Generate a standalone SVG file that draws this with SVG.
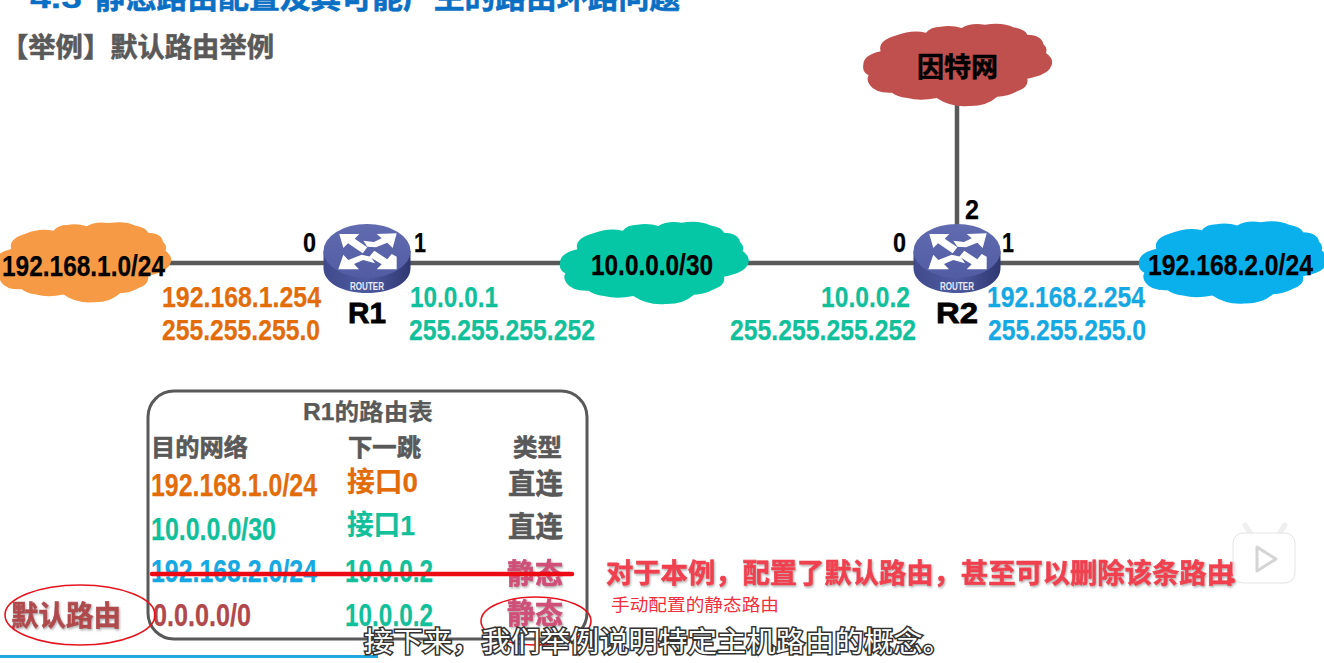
<svg xmlns="http://www.w3.org/2000/svg" xmlns:xlink="http://www.w3.org/1999/xlink" width="1324" height="663" viewBox="0 0 1324 663">
<style>
text{font-family:"Liberation Sans","Noto Sans CJK SC",sans-serif;font-weight:700}
.cn{font-family:"Noto Sans CJK SC",sans-serif;font-weight:700;stroke-width:.6}
.link{stroke:#595959;stroke-width:4.5;fill:none}
.or{fill:#E36C0A;stroke:#E36C0A}.te{fill:#12BF9B;stroke:#12BF9B}.bl{fill:#15A8E2;stroke:#15A8E2}.gr{fill:#595959;stroke:#595959}.ro{fill:#B0484C;stroke:#B0484C}.pk{fill:#D0507A;stroke:#D0507A}.k{fill:#000;stroke:#000}
text{stroke-width:.25}
.sd{filter:url(#sd)}
.oval{fill:none;stroke:#E5141E;stroke-width:1.6}
</style>
<defs>
<filter id="sd" x="-5%" y="-20%" width="110%" height="150%"><feDropShadow dx="1" dy="1.5" stdDeviation=".8" flood-color="#999" flood-opacity=".8"/></filter>
<path id="cl" d="M30 140Q30 112 82 100Q72 68 130 52Q175 34 218 44Q232 26 262 26Q295 20 325 30Q350 14 395 20Q450 12 480 28Q515 34 522 50Q566 52 570 78Q584 90 578 105Q606 125 592 148Q580 172 522 182Q528 208 492 220Q462 236 432 236Q398 266 345 264Q292 268 250 240Q200 250 162 240Q130 236 116 224Q66 226 50 202Q38 186 46 172Q26 162 30 140Z"/>
<linearGradient id="rt" x1="0" y1="0" x2="0" y2="1"><stop offset="0" stop-color="#616BB0"/><stop offset="1" stop-color="#515CA2"/></linearGradient>
<linearGradient id="rs" x1="0" y1="0" x2="1" y2="0"><stop offset="0" stop-color="#404A8C"/><stop offset=".5" stop-color="#4E5AA0"/><stop offset="1" stop-color="#2F3872"/></linearGradient>
<g id="rtr">
<path d="M-43.5 -17V0C-43.5 15-24 25 0 25S43.5 15 43.5 0V-17Z" fill="url(#rs)"/>
<ellipse cx="0" cy="-17" rx="43.5" ry="27" fill="url(#rt)"/>
<g fill="#fff">
<path d="M-27.7 -34L-7.7 -34L-12.3 -29.3L.3 -20.7L-4.3 -14.7L-19 -24.7L-23.7 -20Z"/>
<path d="M29.7 -34.7L9.7 -34L14.7 -29.7L7 -26L-3.7 -27.3L.3 -21.3L9 -20.7L20.3 -25.3L25.7 -20Z"/>
<path d="M-28.7 1.3L-8 1.3L-13 -4L-3.7 -8L8 -4.7L3.7 -11.3L-5.3 -13.3L-18.7 -8L-23.7 -13.3Z"/>
<path d="M29.7 1.3L9.7 1.3L14.7 -3.7L2.3 -11.3L7.3 -17.3L20.3 -8.7L24.7 -14L29.7 -11.3Z"/>
</g>
<text x="0" y="22" text-anchor="middle" font-size="10.5" fill="#E8E8F4" stroke="none" textLength="34" lengthAdjust="spacingAndGlyphs">ROUTER</text>
</g>
</defs>

<g id="title">
<text x="30" y="8" font-size="30" fill="#0B6FC4" stroke="#0B6FC4" textLength="52" lengthAdjust="spacingAndGlyphs">4.3</text>
<text class="cn" x="95" y="8" font-size="30" fill="#0B6FC4" stroke="#0B6FC4" textLength="585" lengthAdjust="spacingAndGlyphs">静态路由配置及其可能产生的路由环路问题</text>
<text class="cn gr" x="1" y="57" font-size="27" textLength="273" lengthAdjust="spacingAndGlyphs">【举例】默认路由举例</text>
</g>

<g id="connectors">
<path class="link" d="M150 263H330M405 263H570M740 263H920M995 263H1150M957 100V232"/>
</g>

<g id="net-left"><use xlink:href="#cl" transform="translate(-14.3 216.5) scale(.311 .325)" fill="#F79A46"/><text x="2" y="276" font-size="30" class="k" textLength="163" lengthAdjust="spacingAndGlyphs">192.168.1.0/24</text></g>
<g id="net-mid"><use xlink:href="#cl" transform="translate(550 216) scale(.3333)" fill="#05C7A6"/><text x="591" y="275" font-size="30" class="k" textLength="122" lengthAdjust="spacingAndGlyphs">10.0.0.0/30</text></g>
<g id="net-right"><use xlink:href="#cl" transform="translate(1129 215.5) scale(.3333)" fill="#0AB0EC"/><text x="1148" y="275" font-size="30" class="k" textLength="165" lengthAdjust="spacingAndGlyphs">192.168.2.0/24</text></g>
<g id="internet"><use xlink:href="#cl" transform="translate(853.3 18) scale(.3333)" fill="#C0504D"/><text class="cn k" x="917" y="77" font-size="27" textLength="81" lengthAdjust="spacingAndGlyphs">因特网</text></g>

<g id="R1"><use xlink:href="#rtr" x="367" y="268"/>
<text class="k" x="348" y="323" font-size="30" style="stroke-width:.8" textLength="38" lengthAdjust="spacingAndGlyphs">R1</text>
<text class="k" x="303" y="252" font-size="28" textLength="13" lengthAdjust="spacingAndGlyphs">0</text>
<text class="k" x="414" y="252" font-size="28" textLength="12" lengthAdjust="spacingAndGlyphs">1</text>
<text class="or" x="162" y="307" font-size="30" textLength="159" lengthAdjust="spacingAndGlyphs">192.168.1.254</text>
<text class="or" x="162" y="340" font-size="30" textLength="158" lengthAdjust="spacingAndGlyphs">255.255.255.0</text>
<text class="te" x="410" y="307" font-size="30" textLength="88" lengthAdjust="spacingAndGlyphs">10.0.0.1</text>
<text class="te" x="409" y="340" font-size="30" textLength="186" lengthAdjust="spacingAndGlyphs">255.255.255.252</text>
</g>
<g id="R2"><use xlink:href="#rtr" x="957" y="268"/>
<text class="k" x="936" y="323" font-size="30" style="stroke-width:.8" textLength="42" lengthAdjust="spacingAndGlyphs">R2</text>
<text class="k" x="893" y="252" font-size="28" textLength="13" lengthAdjust="spacingAndGlyphs">0</text>
<text class="k" x="1002" y="252" font-size="28" textLength="12" lengthAdjust="spacingAndGlyphs">1</text>
<text class="k" x="965" y="219" font-size="28" textLength="14" lengthAdjust="spacingAndGlyphs">2</text>
<text class="te" x="821" y="307" font-size="30" textLength="89" lengthAdjust="spacingAndGlyphs">10.0.0.2</text>
<text class="te" x="730" y="340" font-size="30" textLength="186" lengthAdjust="spacingAndGlyphs">255.255.255.252</text>
<text class="bl" x="987" y="307" font-size="30" textLength="158" lengthAdjust="spacingAndGlyphs">192.168.2.254</text>
<text class="bl" x="988" y="340" font-size="30" textLength="158" lengthAdjust="spacingAndGlyphs">255.255.255.0</text>
</g>

<g id="route-table">
<rect x="148" y="391" width="439" height="248" rx="26" fill="#fff" stroke="#595959" stroke-width="3"/>
<text class="gr" x="303" y="420" font-size="23" textLength="130" lengthAdjust="spacingAndGlyphs">R1的路由表</text>
<text class="cn gr" x="151" y="456" font-size="24" textLength="97" lengthAdjust="spacingAndGlyphs">目的网络</text>
<text class="cn gr" x="348" y="456" font-size="24" textLength="73" lengthAdjust="spacingAndGlyphs">下一跳</text>
<text class="cn gr" x="513" y="456" font-size="24" textLength="49" lengthAdjust="spacingAndGlyphs">类型</text>
<text class="or" x="151" y="496" font-size="31" textLength="166" lengthAdjust="spacingAndGlyphs">192.168.1.0/24</text>
<text class="or" x="347" y="492" font-size="28" textLength="71" lengthAdjust="spacingAndGlyphs">接口0</text>
<text class="cn gr" x="508" y="494" font-size="28" textLength="55" lengthAdjust="spacingAndGlyphs">直连</text>
<text class="te" x="151" y="540" font-size="31" textLength="125" lengthAdjust="spacingAndGlyphs">10.0.0.0/30</text>
<text class="te" x="347" y="535" font-size="28" textLength="68" lengthAdjust="spacingAndGlyphs">接口1</text>
<text class="cn gr" x="508" y="537" font-size="28" textLength="55" lengthAdjust="spacingAndGlyphs">直连</text>
<text class="bl" x="151" y="582" font-size="31" textLength="166" lengthAdjust="spacingAndGlyphs">192.168.2.0/24</text>
<text class="te" x="345" y="582" font-size="31" textLength="88" lengthAdjust="spacingAndGlyphs">10.0.0.2</text>
<text class="cn pk sd" x="507" y="584" font-size="28" textLength="56" lengthAdjust="spacingAndGlyphs">静态</text>
<text class="ro" x="153" y="626" font-size="31" textLength="98" lengthAdjust="spacingAndGlyphs">0.0.0.0/0</text>
<text class="te" x="345" y="626" font-size="31" textLength="88" lengthAdjust="spacingAndGlyphs">10.0.0.2</text>
<text class="cn pk sd" x="507" y="624" font-size="28" textLength="56" lengthAdjust="spacingAndGlyphs">静态</text>
<path d="M152 574H572" stroke="#EE0A14" stroke-width="4.5" stroke-linecap="round"/>
<text class="cn ro sd" x="11" y="626" font-size="28" textLength="110" lengthAdjust="spacingAndGlyphs">默认路由</text>
<ellipse class="oval" cx="80" cy="615" rx="75" ry="30"/>
<ellipse class="oval" cx="536" cy="621" rx="55" ry="24"/>
</g>

<g id="notes">
<text class="cn sd" x="606" y="583" font-size="27.3" fill="#F0404F" stroke="#F0404F">对于本例，配置了默认路由，甚至可以删除该条路由<tspan dx="-8">！</tspan></text>
<text x="611" y="611" font-size="17" fill="#F0303C" stroke="none" style="font-weight:400" textLength="168" lengthAdjust="spacingAndGlyphs">手动配置的静态路由</text>
</g>

<g id="overlay">
<rect x="0" y="655" width="378" height="3" fill="#22A7E0"/>
<path d="M1251 534L1245 525M1279 534L1285 525" stroke="#efefef" stroke-width="5" stroke-linecap="round"/>
<rect x="1233" y="533" width="62" height="50" rx="10" fill="#fff" fill-opacity=".82" stroke="#e4e4e4"/>
<path d="M1257 547V571L1276 559Z" fill="#fff" stroke="#d4d4d4" stroke-width="3" stroke-linejoin="round"/>
<text x="364" y="652" font-size="28" fill="#fff" stroke="#333" style="stroke-width:3;font-weight:400" paint-order="stroke" textLength="588" lengthAdjust="spacingAndGlyphs">接下来，我们举例说明特定主机路由的概念。</text>
</g>
</svg>
